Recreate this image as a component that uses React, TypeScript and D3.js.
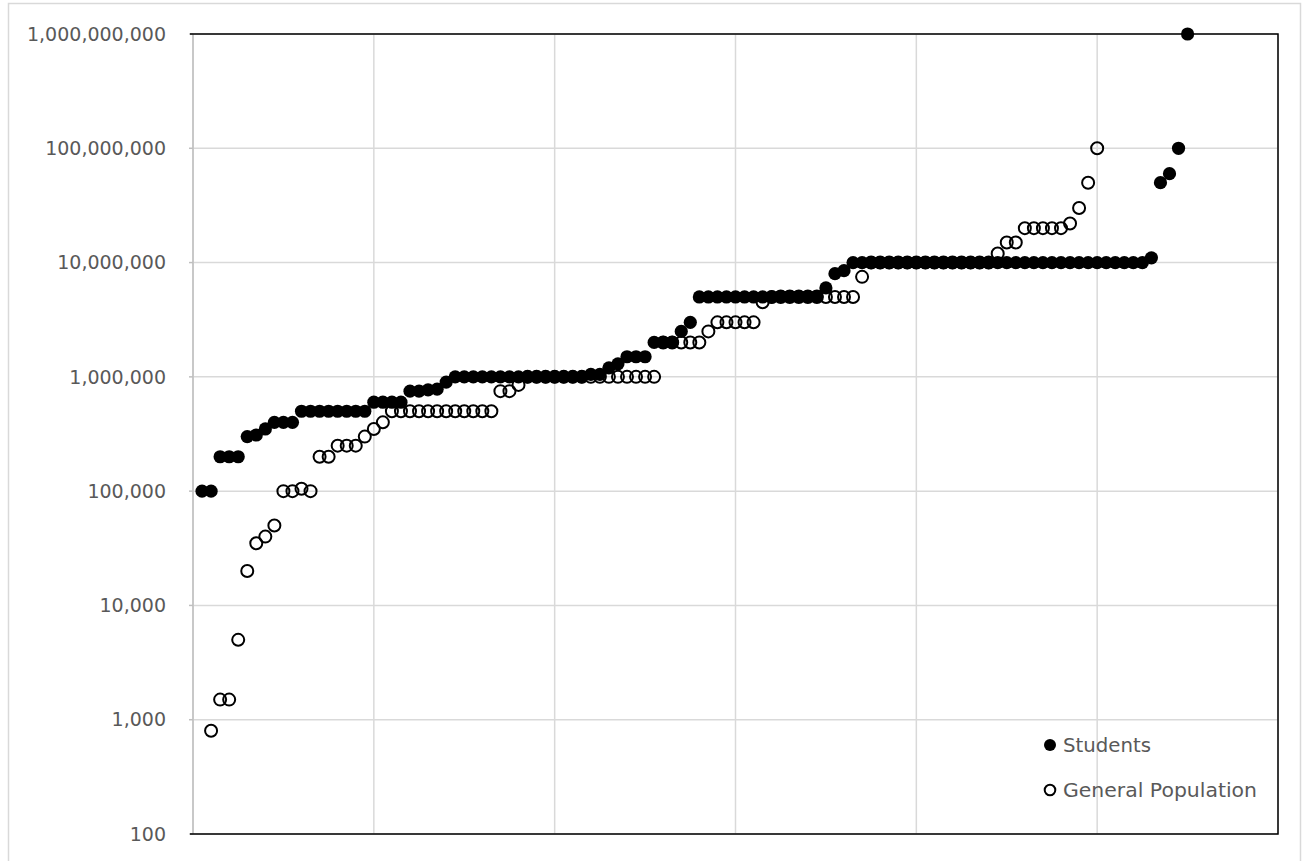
import React from "react";
import * as d3 from "d3";

const studentValues: number[] = [
  100000, 100000,
  200000, 200000, 200000,
  300000, 310000, 350000,
  400000, 400000, 400000,
  500000, 500000, 500000, 500000, 500000, 500000, 500000, 500000,
  600000, 600000, 600000, 600000,
  750000, 750000, 770000, 780000,
  900000,
  1000000, 1000000, 1000000, 1000000, 1000000, 1000000, 1000000, 1000000,
  1000000, 1000000, 1000000, 1000000, 1000000, 1000000, 1000000,
  1050000, 1050000,
  1200000, 1300000,
  1500000, 1500000, 1500000,
  2000000, 2000000, 2000000,
  2500000, 3000000,
  5000000, 5000000, 5000000, 5000000, 5000000, 5000000, 5000000, 5000000, 5000000,
  5100000, 5100000, 5100000, 5100000, 5100000,
  6000000, 8000000, 8500000,
  10000000, 10000000, 10000000, 10000000, 10000000, 10000000, 10000000, 10000000,
  10000000, 10000000, 10000000, 10000000, 10000000, 10000000, 10000000, 10000000,
  10000000, 10000000, 10000000, 10000000, 10000000, 10000000, 10000000, 10000000,
  10000000, 10000000, 10000000, 10000000, 10000000, 10000000, 10000000, 10000000,
  10000000,
  11000000,
  50000000, 60000000, 100000000, 1000000000,
];
const studentStart = 1;

const generalValues: number[] = [
  800,
  1500, 1500,
  5000, 20000, 35000, 40000, 50000,
  100000, 100000, 105000, 100000,
  200000, 200000,
  250000, 250000, 250000,
  300000, 350000, 400000,
  500000, 500000, 500000, 500000, 500000, 500000, 500000, 500000, 500000, 500000, 500000, 500000,
  750000, 750000, 850000,
  1000000, 1000000, 1000000, 1000000, 1000000, 1000000, 1000000, 1000000,
  1000000, 1000000, 1000000, 1000000, 1000000, 1000000, 1000000,
  2000000, 2000000, 2000000, 2000000, 2000000,
  2500000,
  3000000, 3000000, 3000000, 3000000, 3000000,
  4500000,
  5000000, 5000000, 5000000, 5000000, 5000000, 5000000, 5000000, 5000000, 5000000, 5000000,
  7500000,
  10000000, 10000000, 10000000, 10000000, 10000000, 10000000, 10000000,
  10000000, 10000000, 10000000, 10000000, 10000000, 10000000, 10000000,
  12000000, 15000000, 15000000,
  20000000, 20000000, 20000000, 20000000, 20000000,
  22000000, 30000000, 50000000, 100000000,
];
const generalStart = 2;

const yTicks: number[] = [100, 1000, 10000, 100000, 1000000, 10000000, 100000000, 1000000000];
const xTicks: number[] = [0, 20, 40, 60, 80, 100, 120];
const legendLabels: string[] = ["Students", "General Population"];

const W = 1308;
const H = 861;
const left = 193;
const right = 1278;
const top = 34;
const bottom = 834;

export default function App() {
  const x = d3.scaleLinear().domain([0, 120]).range([left, right]);
  const y = d3.scaleLog().domain([100, 1000000000]).range([bottom, top]);
  const fmt = d3.format(",");
  const font = "'DejaVu Sans', sans-serif";
  const grey = "#595959";
  const grid = "#d9d9d9";

  return (
    <div style={{ position: "absolute", left: 0, top: 0 }}>
      <svg width={W} height={H} style={{ display: "block", background: "#fff" }}>
        <rect x={8.5} y={3.5} width={1292} height={880} fill="#fff" stroke={grid} strokeWidth={1.5} />
        {yTicks.map((t) => (
          <line key={"hy" + t} x1={left} x2={right} y1={y(t)} y2={y(t)} stroke={grid} strokeWidth={1.5} />
        ))}
        {xTicks.map((t) => (
          <line key={"vx" + t} x1={x(t)} x2={x(t)} y1={top} y2={bottom} stroke={grid} strokeWidth={1.5} />
        ))}
        {yTicks.map((t) => (
          <line key={"tk" + t} x1={left - 4} x2={left} y1={y(t)} y2={y(t)} stroke="#bfbfbf" strokeWidth={1.5} />
        ))}
        <line x1={left} x2={left} y1={top} y2={bottom} stroke="#bfbfbf" strokeWidth={1.5} />
        <path
          d={`M${left - 3},${top}H${right}V${bottom}H${left - 3}`}
          fill="none"
          stroke="#000"
          strokeWidth={1.5}
        />
        {yTicks.map((t) => (
          <text
            key={"lb" + t}
            x={166}
            y={y(t)}
            dy="0.35em"
            textAnchor="end"
            fontFamily={font}
            fontSize={19}
            fill={grey}
          >
            {fmt(t)}
          </text>
        ))}
        {studentValues.map((v, i) => (
          <circle key={"s" + i} cx={x(i + studentStart)} cy={y(v)} r={6.6} fill="#000" />
        ))}
        {generalValues.map((v, i) => (
          <circle
            key={"g" + i}
            cx={x(i + generalStart)}
            cy={y(v)}
            r={6}
            fill="none"
            stroke="#000"
            strokeWidth={2}
          />
        ))}
        <circle cx={1050} cy={745} r={6} fill="#000" />
        <text x={1063} y={745} dy="0.35em" fontFamily={font} fontSize={19} fill={grey} textLength={88} lengthAdjust="spacingAndGlyphs">
          {legendLabels[0]}
        </text>
        <circle cx={1050} cy={790} r={5.3} fill="none" stroke="#000" strokeWidth={2} />
        <text x={1063} y={790} dy="0.35em" fontFamily={font} fontSize={19} fill={grey} textLength={194} lengthAdjust="spacingAndGlyphs">
          {legendLabels[1]}
        </text>
      </svg>
    </div>
  );
}
